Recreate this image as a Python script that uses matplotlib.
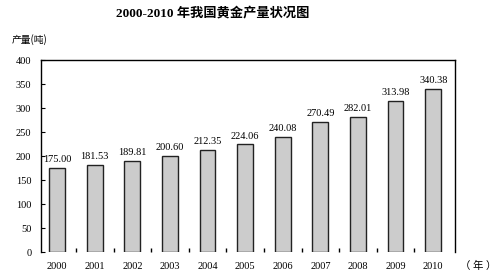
import numpy as np
import matplotlib.pyplot as plt

plt.rcParams['font.family'] = ['Liberation Serif', 'Noto Sans CJK SC']

years = ['2000', '2001', '2002', '2003', '2004', '2005',
         '2006', '2007', '2008', '2009', '2010']
output = [175.00, 181.53, 189.81, 200.60, 212.35, 224.06,
          240.08, 270.49, 282.01, 313.98, 340.38]
yticks = [0, 50, 100, 150, 200, 250, 300, 350, 400]

fig = plt.figure(figsize=(5.01, 2.78), dpi=100)
ax = fig.add_axes([41/501, 26/278, 414/501, 192/278])

x = np.arange(len(years))
ax.bar(x, output, width=0.42, color='#cccccc', edgecolor='#222222', linewidth=1.0)

for xi, v in zip(x, output):
    ax.text(xi, v + 8, f"{v:.2f}", ha='center', va='bottom', fontsize=7.5)

ax.set_xlim(-0.43, 10.58)
ax.set_ylim(0, 400)
ax.set_yticks(yticks)
ax.set_yticklabels([str(t) for t in yticks], fontsize=7.5)
ax.set_xticks(x)
ax.set_xticklabels(years, fontsize=7.5)
ax.tick_params(axis='x', length=0, pad=7)
ax.tick_params(axis='y', direction='in', length=3, pad=7)

# small separators between categories along the bottom
ax.set_xticks(x[:-1] + 0.5, minor=True)
ax.tick_params(axis='x', which='minor', direction='in', length=3, width=1)

for s in ['left', 'top', 'right']:
    ax.spines[s].set_linewidth(1.0)
ax.spines['bottom'].set_visible(False)

fig.text(213/501, 1 - 13/278, '2000-2010 年我国黄金产量状况图', ha='center', va='center',
         fontsize=9.5, fontweight='bold')
fig.text(12/501, 1 - 40/278, '产量(吨)', ha='left', va='center', fontsize=7,
         family=['Noto Sans CJK SC'])
fig.text(460/501, 1 - 266/278, '（ 年 ）', ha='left', va='center', fontsize=7.5)

fig.savefig('out.png', dpi=100)
